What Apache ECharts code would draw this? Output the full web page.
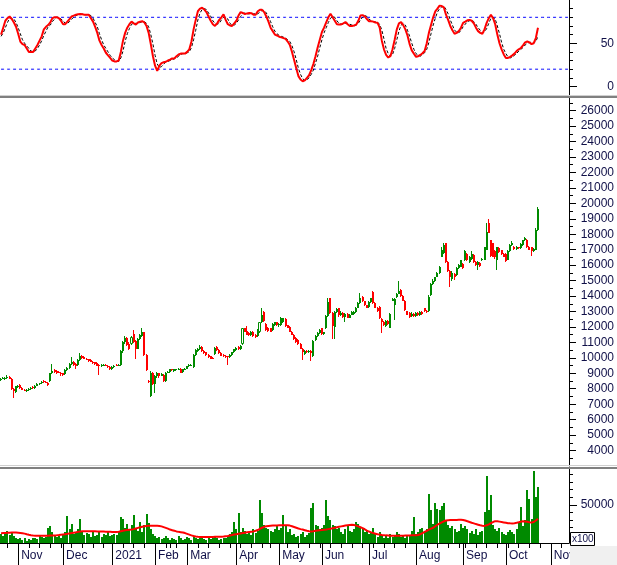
<!DOCTYPE html>
<html>
<head>
<meta charset="utf-8">
<script src="https://cdn.jsdelivr.net/npm/echarts@6/dist/echarts.min.js"></script>
<style>
html,body{margin:0;padding:0;background:#fff;}
#chart{width:617px;height:565px;}
</style>
</head>
<body>
<div id="chart"></div>
<script>
// ---------- DATA ----------
const monthDays = [
 '2020-10|21,22,23,26,27,28,29,30',
 '2020-11|2,3,4,5,6,9,10,11,12,13,16,17,18,19,20,23,24,25,26,27,30',
 '2020-12|1,2,3,4,7,8,9,10,11,14,15,16,17,18,21,22,23,24,25,28,29,30,31',
 '2021-01|4,5,6,7,8,11,12,13,14,15,18,19,20,21,22,25,26,27,28,29',
 '2021-02|1,2,3,4,5,8,9,17,18,19,22,23,24,25,26',
 '2021-03|1,2,3,4,5,8,9,10,11,12,15,16,17,18,19,22,23,24,25,26,29,30,31',
 '2021-04|1,2,5,6,7,8,9,12,13,14,15,16,19,20,22,23,26,27,28,29',
 '2021-05|4,5,6,7,10,11,12,13,14,17,18,19,20,21,24,25,26,27,28,31',
 '2021-06|1,2,3,4,7,8,9,10,11,14,15,16,17,18,21,22,23,24,25,28,29,30',
 '2021-07|1,2,5,6,7,8,9,12,13,14,15,16,19,20,21,22,23,26,27,28,29,30',
 '2021-08|2,3,4,5,6,9,10,11,12,13,16,17,18,19,20,23,24,25,26,27,30,31',
 '2021-09|1,6,7,8,9,10,13,14,15,16,17,20,21,22,23,24,27,28,29,30',
 '2021-10|1,4,5,6,7,8,11,12,13,14,15,18,19,20,21,22,25,26,27,28,29',
 '2021-11|1,2,3,4,5,8,9,10,11'
];
const monthNames = ['Jan','Feb','Mar','Apr','May','Jun','Jul','Aug','Sep','Oct','Nov','Dec'];

const opens = [
 8550,8650,8600,8700,8750,8650,8000,7800,8100,8250,
 8050,7950,7850,7900,8000,8100,8050,8200,8300,8350,
 8500,8450,8400,8500,9000,9200,9150,9100,9050,9000,
 8950,9200,9350,9600,9750,9600,9550,9850,10150,10050,
 9950,9900,9850,9750,9700,9650,9550,9450,9500,9550,
 9500,9400,9250,9400,9550,9500,9550,10450,11000,11300,
 10900,10900,11550,11100,10600,11200,11400,11650,10200,8500,
 7550,9050,8300,8800,9000,8850,8900,8500,9050,9100,
 9250,9150,9200,9250,9300,9100,9250,9300,9450,9500,
 9400,10200,10450,10550,10700,10450,10350,10200,10100,10000,
 10250,10700,10500,10300,10200,10150,10100,10050,10200,10350,
 10500,10700,10550,10900,11900,11750,11600,11450,11700,11500,
 11400,11650,12300,12950,12200,11950,11900,11800,12100,12300,
 12100,12100,12300,12500,12100,12000,11700,11500,11300,11150,
 10900,10600,10250,10450,10350,10450,10100,11150,11400,11600,
 11900,11550,11900,12700,13850,12900,12000,12950,13200,12750,
 12900,12650,12850,12600,12800,12850,12950,13250,13550,13950,
 13650,13400,13300,13600,14250,13550,13250,13300,12500,12300,
 12050,12400,11950,13700,13400,13950,14150,14400,14000,13700,
 13000,12900,12700,12850,12700,12900,12750,12950,13200,13050,
 13000,14050,14800,15000,15250,15500,16550,16800,17400,16200,
 15600,15100,15450,15350,15800,15900,16100,16300,16750,16200,
 16400,16650,16200,16000,16150,16300,16350,17000,18700,17600,
 17400,16900,16350,17100,16950,16750,16750,16350,16900,17300,
 17200,17050,17150,17100,17300,17600,17650,17200,17150,16900,
 17000,18300
];
const closes = [
 8650,8700,8700,8750,8650,8000,7850,8150,8200,8050,
 7950,7900,7950,8000,8050,8050,8200,8300,8350,8450,
 8450,8400,8250,9000,9150,9100,9050,9050,9000,8900,
 9200,9350,9600,9750,9550,9500,9850,10100,10000,9950,
 9900,9800,9750,9650,9600,9500,9500,9550,9550,9500,
 9400,9250,9400,9500,9500,9550,10450,11000,11300,10800,
 10600,11350,11000,10600,11250,11500,11700,10200,9200,8450,
 9050,8300,8800,9000,8800,8950,8500,9050,9100,9250,
 9200,9250,9250,9300,9050,9250,9300,9450,9550,9550,
 10200,10500,10600,10700,10450,10300,10200,10050,9950,9950,
 10650,10500,10300,10150,10100,10050,10050,10200,10350,10550,
 10650,10550,10750,11900,11700,11500,11450,11700,11400,11350,
 11800,12300,12800,12400,11800,11750,11700,12200,12300,12100,
 12200,12600,12550,12050,11950,11700,11500,11200,11000,10900,
 10600,10350,10450,10350,10450,10300,11100,11400,11600,11800,
 11550,11650,12700,13600,12900,12050,12950,13150,12800,12900,
 12650,12850,12600,12800,12950,12950,13250,13550,13850,13650,
 13400,13250,13600,13850,13550,13250,13000,12550,12300,12100,
 12400,12200,12850,13800,13800,14150,14350,14000,13700,13100,
 12800,12650,12850,12700,12900,12750,12950,12850,13000,12950,
 13950,14800,15000,15200,15500,15900,17000,17300,16200,15600,
 15250,15500,15200,15800,16000,16300,15800,16900,16300,16550,
 16700,16200,16000,16200,15950,16400,17150,18150,18100,16600,
 16550,16500,17150,16850,16700,16550,16250,16900,17300,17450,
 17050,17200,17100,17350,17600,17750,17150,17000,16900,17050,
 18300,19600
];
const lows = [
 8500,8600,8550,8650,8600,7950,7400,7750,8050,8000,
 7900,7850,7800,7850,7950,8000,8000,8150,8250,8300,
 8400,8350,8200,8450,8950,9050,8950,9000,8850,8800,
 8900,9150,9300,9550,9500,9250,9500,9800,9950,9900,
 9850,9750,9700,9600,9550,9450,8900,9400,9450,9450,
 9350,9200,9200,9350,9450,9450,9500,10300,10900,10750,
 10500,10850,10950,9900,10550,11150,11350,10150,9150,8400,
 7450,8250,7700,8700,8700,8800,8450,8450,9000,9050,
 9150,9100,9150,9200,9000,9050,9200,9250,9400,9450,
 9350,10150,10400,10500,10400,10250,10150,10000,9900,9900,
 10200,10450,10250,10100,10050,10000,9550,10000,10150,10300,
 10450,10500,10500,10850,11650,11450,11400,11400,11350,11300,
 11350,11600,12250,12350,11750,11700,11650,11750,12050,12050,
 12000,12050,12250,12000,11900,11650,11450,11150,10950,10850,
 10550,9850,10200,10300,10300,9800,10050,11100,11350,11550,
 11500,11500,11850,12650,12850,11250,11250,12900,12650,12700,
 12600,12350,12550,12550,12750,12800,12900,13200,13500,13600,
 13350,13200,13250,13550,13500,13200,12950,12500,11600,12050,
 12000,12150,11900,13650,12450,13900,14100,13950,13650,13050,
 12750,12600,12650,12650,12650,12700,12700,12800,12950,12900,
 12950,14000,14700,14900,15200,15450,16500,16750,16150,15550,
 14600,15000,15050,15300,15750,15850,15750,16250,16250,16150,
 16350,16150,15950,15700,15900,16250,16300,16950,18050,16550,
 16500,16400,15700,16800,16650,16500,16200,16300,16850,17250,
 17000,17000,17050,17050,17250,17550,17100,16950,16600,16850,
 16950,18200
];
const highs = [
 8700,8750,8750,8900,8800,8700,8050,8200,8250,8300,
 8100,8000,8000,8050,8100,8150,8250,8350,8400,8500,
 8550,8500,8450,9050,9600,9250,9200,9150,9100,9050,
 9250,9400,9650,10050,9800,9650,9900,10300,10200,10100,
 10000,9950,9900,9800,9750,9700,9600,9600,9600,9600,
 9550,9450,9450,9550,9600,9600,10500,11100,11400,11350,
 11000,11400,11800,11150,11300,11550,11950,11700,10250,8550,
 9150,9100,8900,9100,9050,9050,8950,9100,9150,9300,
 9300,9300,9300,9350,9350,9300,9350,9500,9600,9600,
 10250,10550,10650,10800,10750,10500,10400,10250,10150,10050,
 10700,10750,10550,10350,10250,10200,10150,10250,10400,10600,
 10700,10750,10800,11950,11950,12050,11650,11750,11750,11550,
 11850,12350,13200,13000,12250,12000,11950,12250,12350,12350,
 12250,12650,12600,12550,12150,12050,11750,11550,11350,11200,
 10950,10650,10500,10500,10500,10500,11150,11500,11650,11850,
 11950,11700,12800,13850,13850,12950,13000,13200,13250,13000,
 12950,12900,12900,12850,13000,13000,13300,13600,14200,14000,
 13700,13450,13650,13900,14300,13600,13300,13350,12550,12400,
 12450,12450,12900,13850,13850,14200,14950,14450,14050,13750,
 13050,12950,12950,12900,12950,12950,13000,13000,13250,13100,
 14050,14850,15100,15250,15550,15950,17150,17400,17400,16250,
 15700,15600,15500,15850,16050,16350,16150,16950,16800,16600,
 16900,16700,16250,16250,16200,16450,17200,18750,19000,17650,
 17450,17000,17200,17150,17000,16800,16800,16950,17350,17550,
 17250,17250,17200,17400,17650,17800,17700,17250,17200,17100,
 18400,19750
];
const hollowIdx = [61, 113, 121];

const volumes = [
 12000,9000,14000,16000,10000,13000,9000,6000,5000,7000,
 4000,6000,3000,5000,4000,6000,7000,5000,9000,8000,
 6000,8000,20000,22000,14000,10000,8000,9000,6000,12000,
 15000,35000,18000,25000,12000,14000,19000,32000,14000,10000,
 13000,12000,8000,15000,9000,11000,14000,8000,12000,10000,
 16000,9000,11000,12000,10000,14000,34000,32000,20000,25000,
 18000,24000,37000,20000,16000,27000,14000,23000,37600,26000,
 18000,12000,9000,6000,8000,5000,7000,9000,6000,4000,
 6000,5000,4000,9000,6000,4000,5000,8000,6000,4000,
 9000,7000,5000,6000,8000,5000,4000,6000,5000,7000,
 9000,6000,4000,5000,7000,6000,9000,12000,14000,28000,
 18000,39000,14000,20000,16000,12000,14000,10000,18000,13000,
 16000,56600,39000,24000,20000,18000,16000,14000,19000,24000,
 17000,20000,36600,22000,14000,18000,10000,12000,8000,9000,
 12000,14000,8000,10000,13000,46000,52000,24000,22000,18000,
 20000,24000,56600,35000,30000,24000,22000,18000,20000,14000,
 12000,18000,22000,16000,14000,19000,28000,25000,20000,18000,
 14000,16000,12000,15000,20000,12000,8000,14000,10000,7000,
 9000,6000,12000,8000,10000,14000,12000,8000,9000,7000,
 11000,10000,16000,34000,12000,14000,18000,20000,15000,19000,
 63800,43800,25000,53000,45000,43000,48000,53000,30000,24000,
 20000,22000,18000,14000,16000,25000,20000,22000,18000,13000,
 16000,12000,18000,10000,14000,16000,40000,88000,43800,63000,
 24000,18000,16000,20000,14000,12000,10000,15000,17000,14000,
 12000,18000,26000,47000,22000,30000,70000,58000,32000,93800,
 60000,73000
];
const volumeMA = [
 12900,13000,13100,13300,13500,13700,13800,13700,13500,13200,12800,12300,
 11500,10800,10200,9800,9600,9500,9500,9500,9500,9500,9600,9700,9800,9900,10100,
 10400,10800,11200,11600,12000,12500,13000,13500,14000,14600,
 15200,15300,15400,15400,15500,15500,15400,15300,15200,15200,
 15100,15000,14900,14800,14600,14400,14300,14400,14800,15400,16000,16600,17000,17400,
 17600,18200,19000,19800,20600,21400,22000,22400,22600,22700,22700,22600,22500,22400,
 21800,20800,19800,18800,17600,16800,16000,15200,14600,14200,13800,13000,12000,11000,10000,9200,8600,
 8100,8000,7900,7900,7900,8000,8000,8000,8100,8100,8100,8100,
 8400,8800,9200,9700,10500,11000,11500,12000,12500,13000,13500,14000,14400,14800,15200,
 16000,17000,18500,20000,21200,22000,22400,22600,22800,23000,23100,23200,23300,23300,23300,23300,
 22800,22000,21000,20000,19000,18200,17600,16800,16000,15500,15200,15500,16000,16400,16700,17000,17300,17600,
 18200,18800,19400,20000,20600,21200,21800,22400,22900,23300,23600,23800,
 23500,22800,21800,20600,19400,18000,16200,15000,14000,13000,12200,11400,
 11000,10600,10300,10000,9800,9600,9500,9500,9500,9500,9500,9600,9700,9800,9900,10000,10100,10300,10500,
 11500,13000,14500,16000,17500,18800,20000,22000,24000,25500,27000,28500,29500,
 29800,30000,30100,30200,30300,30400,30500,30200,29500,28500,27500,26500,25700,24800,
 24000,23200,22600,22400,23200,24500,26000,27500,28600,
 28500,28000,27500,27000,26500,26000,25800,25700,
 26000,26500,27200,28000,28600,28300,27800,27200,26700,27500,29500,31900
];
const stochK = [
 60,68,76,79,81,78,74,69,61,52,
 49,48,44,40,40,40,44,48,53,58,
 66,69,71,74,79,80,80,79,76,72,
 72,75,78,81,82,83,83.5,83.7,83.5,83,
 83,83,79,75,69,62,53,48,44,39,
 36,33,30,29,29,30,40,53,62,68,
 72,75,73,71.5,74,75,75.5,74,70,62,
 49,35,24,18,24,27,28,28.6,30,31,
 32.5,32.5,35,37,38,38,38,40,43,52,
 66,77,87,90,91,89,86,81,76,72,
 70,73,77,80,83.5,77,72,70.5,70,73,
 76,82,86,85,83.7,84.5,85,84.8,83,83,
 87,88.6,88.6,86,81,75,68,64,60,59,
 57.5,56.8,56,55,52,48,40,30.5,21,12,
 8,6,7,10,13,19,26,35,45,54,
 63,68,74,80,84,80,76,72,71.8,71.8,
 73,74.5,72,70,70,70.5,71.5,76,82,82.5,
 81,78,75.5,75.5,75,74,73.6,68,53,43,
 36.5,33.5,35,43,54,66,73,74.5,71,66,
 59,49,41.8,38,34.3,35,36.5,38.5,41,50,
 62,71,80,86.8,90,93.5,93,91.5,83,77,
 70,65,61,62,64,68,73.6,75,76.5,77,
 76,73,68,64,62,61,66,73.6,79,83,
 79,72,60,50,43,37,33,33,34.3,36,
 38,41,43,44.5,47.5,51,52,51,49,50,
 56,68
];
const stochD = [
 58,62,68,74,79,79,78,74,68,61,
 54,50,47,44,41,40,41,44,48,53,
 59,64,69,71,75,78,80,80,78,76,
 73,73,75,78,80,82,83,83,84,83,
 83,83,82,79,74,69,61,54,48,44,
 40,36,33,31,29,29,33,41,52,61,
 67,72,73,73,73,74,75,75,73,69,
 60,49,36,26,22,23,26,28,29,30,
 31,32,33,35,37,38,38,39,40,45,
 54,65,77,85,89,90,89,85,81,76,
 73,72,73,77,80,80,78,73,71,71,
 73,77,81,84,85,84,84,85,84,84,
 84,86,88,88,85,81,75,69,64,61,
 59,58,57,56,54,52,47,40,31,21,
 14,9,7,8,10,14,19,27,35,45,
 54,62,68,74,79,81,80,76,73,72,
 72,73,73,72,71,70,71,73,77,80,
 82,81,78,76,75,75,74,72,65,55,
 44,38,35,37,44,54,64,71,73,71,
 65,58,50,43,38,36,35,37,39,43,
 51,61,71,79,86,90,92,93,89,84,
 77,71,65,63,62,65,69,72,75,76,
 77,75,72,68,65,62,63,67,73,79,
 80,78,70,61,51,43,38,34,33,34,
 36,38,41,43,45,48,50,51,51,50,
 52,58
];
const stochLevels = [20, 80];
const stochTicks = [0, 50];
const stochMinorTicks = [10, 20, 30, 40, 60, 70, 80, 90];
const priceTicks = [4000,5000,6000,7000,8000,9000,10000,11000,12000,13000,14000,15000,16000,17000,18000,19000,20000,21000,22000,23000,24000,25000,26000];
const priceMinorTicks = [3500,4500,5500,6500,7500,8500,9500,10500,11500,12500,13500,14500,15500,16500,17500,18500,19500,20500,21500,22500,23500,24500,25500,26500];
const volTicks = [50000];
const volMinorTicks = [10000,20000,30000,40000,60000,70000,80000,90000];

// ---------- BUILD ----------
const dates = [];
monthDays.forEach(s => {
  const [ym, ds] = s.split('|');
  ds.split(',').forEach(d => dates.push(ym + '-' + d.padStart(2, '0')));
});
const dayMs = 864e5;
const toDate = s => new Date(s + 'T00:00:00Z');
const isMonthStart = i => i > 0 && dates[i].slice(0, 7) !== dates[i - 1].slice(0, 7);
const isWeekStart = i => {
  if (i === 0) return false;
  const a = toDate(dates[i - 1]), b = toDate(dates[i]);
  return b.getUTCDay() <= a.getUTCDay() || (b - a) >= 7 * dayMs;
};

const UP = '#008a00', DOWN = '#ff0000', TXT = '#101048';
const FONT = 'Liberation Sans, Arial, sans-serif';

const candleData = opens.map((o, i) => [i, o, closes[i], lows[i], highs[i], hollowIdx.includes(i) ? 1 : 0]);
const volData = volumes.map((v, i) => [i, v]);

function renderCandle(params, api) {
  const i = api.value(0), o = api.value(1), c = api.value(2), lo = api.value(3), hi = api.value(4), hollow = api.value(5);
  const pO = api.coord([i, o]);
  const x = Math.round(pO[0]) - 1;
  const yO = pO[1], yC = api.coord([i, c])[1];
  const yL = Math.round(api.coord([i, lo])[1]), yH = Math.round(api.coord([i, hi])[1]);
  let top = Math.round(Math.min(yO, yC)), bot = Math.round(Math.max(yO, yC));
  if (bot - top < 1) bot = top + 1;
  const col = c >= o ? UP : DOWN;
  const children = [];
  if (hollow) {
    children.push({ type: 'rect', shape: { x: x, y: yH, width: 1, height: Math.max(0, top - yH) }, style: { fill: col } });
    children.push({ type: 'rect', shape: { x: x, y: bot, width: 1, height: Math.max(0, yL - bot) }, style: { fill: col } });
    children.push({ type: 'rect', shape: { x: x - 0.5, y: top + 0.5, width: 2, height: bot - top - 1 }, style: { fill: '#ffffff', stroke: col, lineWidth: 1 } });
  } else {
    children.push({ type: 'rect', shape: { x: x, y: yH, width: 1, height: Math.max(1, yL - yH) }, style: { fill: col } });
    children.push({ type: 'rect', shape: { x: x, y: top, width: 2, height: bot - top }, style: { fill: col } });
  }
  return { type: 'group', children };
}
function renderVol(params, api) {
  const i = api.value(0), v = api.value(1);
  const p = api.coord([i, v]), b = api.coord([i, 0]);
  const x = Math.round(p[0]) - 1, y = Math.round(p[1]), yb = Math.round(b[1]);
  return { type: 'rect', shape: { x: x, y: y, width: 2, height: yb - y }, style: { fill: UP } };
}

const L = -2, R = 48;
const grids = [
  { left: L, right: R, top: 0, height: 96 },
  { left: L, right: R, top: 97, height: 369 },
  { left: L, right: R, top: 469, height: 74 }
];
const hiddenX = g => ({ type: 'category', gridIndex: g, data: dates, show: false, boundaryGap: true });
const yBase = (g, min, max, ticks, len, labels) => ({
  type: 'value', gridIndex: g, position: 'right', min, max,
  splitLine: { show: false },
  axisLine: { show: !!labels, lineStyle: { color: '#000', width: 1 } },
  axisTick: { show: true, customValues: ticks, length: len, lineStyle: { color: '#000' } },
  axisLabel: labels ? { show: true, customValues: ticks, align: 'right', margin: 45, color: TXT, fontSize: 12, fontFamily: FONT, formatter: v => String(v) } : { show: false }
});
const levelSeries = stochLevels.map(lv => ({
  type: 'line', xAxisIndex: 0, yAxisIndex: 0, data: dates.map(() => lv), symbol: 'none', silent: true, z: 1,
  lineStyle: { color: '#0000ff', width: 1, type: [3, 3] }
}));

const option = {
  animation: false,
  backgroundColor: '#ffffff',
  grid: grids,
  xAxis: [
    hiddenX(0), hiddenX(1),
    { type: 'category', gridIndex: 2, position: 'bottom', data: dates,
      axisLine: { show: true, lineStyle: { color: '#000', width: 1 } },
      axisTick: { show: true, alignWithLabel: true, interval: (i) => isWeekStart(i), length: 5, lineStyle: { color: '#000' } },
      axisLabel: { show: false } },
    { type: 'category', gridIndex: 2, position: 'bottom', data: dates,
      axisLine: { show: false },
      axisTick: { show: true, alignWithLabel: true, interval: (i) => isMonthStart(i), length: 22, lineStyle: { color: '#000' } },
      axisLabel: { show: true, interval: (i) => isMonthStart(i), align: 'left', padding: [0, 0, 0, 3], margin: 7,
        color: TXT, fontSize: 12, fontFamily: FONT,
        formatter: (v) => { const m = +v.slice(5, 7); return m === 1 ? v.slice(0, 4) : monthNames[m - 1]; } } }
  ],
  yAxis: [
    yBase(0, -11, 100, stochTicks, 8, true),
    yBase(0, -11, 100, stochMinorTicks, 4, false),
    yBase(1, 3000, 26880, priceTicks, 7, true),
    yBase(1, 3000, 26880, priceMinorTicks, 4, false),
    yBase(2, 0, 97000, volTicks, 8, true),
    yBase(2, 0, 97000, volMinorTicks, 4, false)
  ],
  series: [
    ...levelSeries,
    { type: 'line', xAxisIndex: 0, yAxisIndex: 0, data: stochD, symbol: 'none', silent: true, z: 2,
      lineStyle: { color: '#000000', width: 1, type: [3, 2] } },
    { type: 'line', xAxisIndex: 0, yAxisIndex: 0, data: stochK, symbol: 'none', silent: true, z: 3,
      lineStyle: { color: '#ff0000', width: 2 } },
    { type: 'custom', xAxisIndex: 1, yAxisIndex: 2, data: candleData, silent: true, clip: true,
      encode: { x: 0, y: [1, 2, 3, 4] }, renderItem: renderCandle },
    { type: 'custom', xAxisIndex: 2, yAxisIndex: 4, data: volData, silent: true, clip: true,
      encode: { x: 0, y: 1 }, renderItem: renderVol },
    { type: 'line', xAxisIndex: 2, yAxisIndex: 4, data: volumeMA, symbol: 'none', silent: true, z: 5,
      lineStyle: { color: '#ff0000', width: 2 } }
  ],
  graphic: [
    { type: 'rect', z: 100, shape: { x: 0, y: 95, width: 617, height: 1 }, style: { fill: '#d0d0d0' } },
    { type: 'rect', z: 100, shape: { x: 0, y: 96, width: 617, height: 2 }, style: { fill: '#808080' } },
    { type: 'rect', z: 100, shape: { x: 0, y: 465, width: 617, height: 1 }, style: { fill: '#d0d0d0' } },
    { type: 'rect', z: 100, shape: { x: 0, y: 467, width: 617, height: 2 }, style: { fill: '#808080' } },
    { type: 'rect', z: 100, shape: { x: 570, y: 546, width: 47, height: 19 }, style: { fill: '#f0f0f0' } },
    { type: 'rect', z: 100, shape: { x: 570.5, y: 532.5, width: 24, height: 13 }, style: { fill: '#ffffff', stroke: '#000', lineWidth: 1 } },
    { type: 'text', z: 101, style: { text: 'x100', x: 572, y: 539.5, verticalAlign: 'middle', font: '10px ' + FONT, fill: TXT } }
  ]
};

const chart = echarts.init(document.getElementById('chart'), null, { renderer: 'canvas' });
chart.setOption(option);
</script>
</body>
</html>
